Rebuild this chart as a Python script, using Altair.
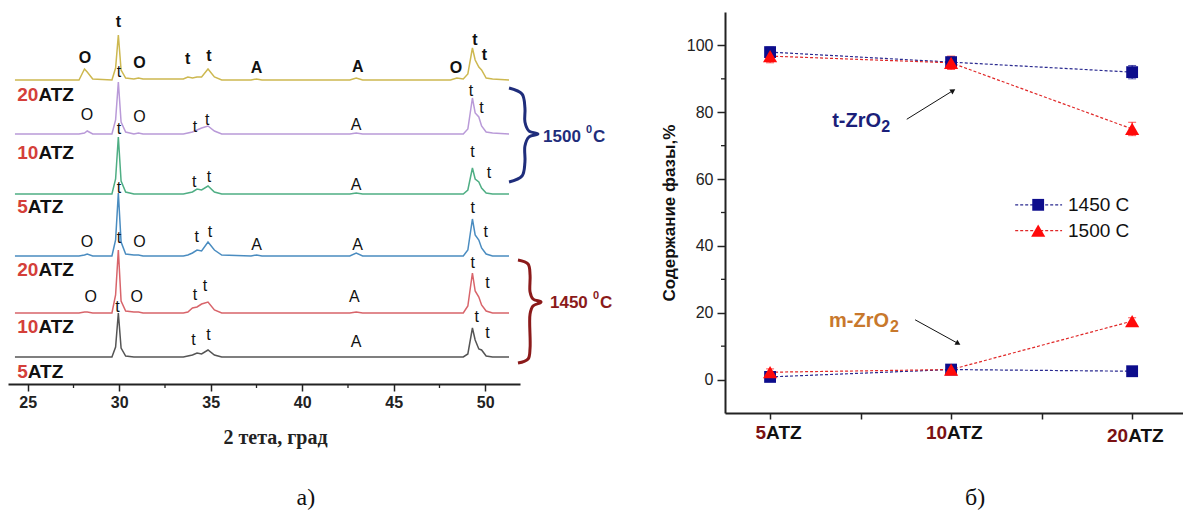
import altair as alt
import pandas as pd

# ================= panel a) : XRD patterns =================
TWO_THETA = [24.3, 27.8, 28.1, 28.25, 28.55, 29.6, 29.8, 29.95, 30.1, 30.35, 30.8, 31.05, 31.3,
             33.5, 33.75, 34.0, 34.25, 34.5, 34.85, 35.2, 35.6, 37.2, 37.5, 37.8, 42.6, 42.95, 43.3,
             48.1, 48.45, 48.8, 49.05, 49.3, 49.45, 49.65, 49.8, 50.05, 50.4, 51.3]
I_20ATZ_1500 = [0, 0, 11, 8, 1, 0, 12, 45, 10, 2, 1, 2, 1, 1, 3, 2, 3, 3, 11, 3, 0, 0, 1, 0, 0, 2, 0,
                0, 2, 1, 6, 32, 20, 13, 10, 2, 1, 0]
I_10ATZ_1500 = [0, 0, 1, 3, 0, 0, 14, 52, 12, 2, 0, 1, 0, 0, 1, 2, 4, 6, 8, 3, 0, 0, 0, 0, 0, 1, 0,
                0, 0, 0, 5, 36, 21, 17, 8, 2, 1, 0]
I_5ATZ_1500 = [0, 0, 0, 0, 0, 0, 15, 57, 13, 2, 0, 0, 0, 0, 1, 2, 5, 4, 8, 2, 0, 0, 0, 0, 0, 1, 0,
               0, 0, 0, 4, 26, 15, 12, 6, 1, 0, 0]
I_20ATZ_1450 = [0, 0, 1, 2, 0, 0, 16, 63, 14, 2, 1, 1, 0, 0, 1, 3, 6, 5, 14, 6, 1, 0, 1, 0, 0, 3, 0,
                0, 0, 0, 6, 37, 21, 16, 8, 2, 0, 0]
I_10ATZ_1450 = [0, 0, 1, 1, 0, 0, 18, 63, 12, 2, 1, 1, 0, 0, 1, 5, 6, 9, 11, 3, 0, 0, 0, 0, 0, 1, 0,
                0, 0, 0, 7, 40, 22, 16, 8, 2, 0, 0]
I_5ATZ_1450 = [0, 0, 0, 0, 0, 0, 10, 44, 9, 1, 0, 0, 0, 0, 1, 2, 4, 3, 7, 2, 0, 0, 0, 0, 0, 0, 0,
               0, 0, 0, 3, 29, 17, 8, 7, 1, 0, 0]
TRACES = [I_20ATZ_1500, I_10ATZ_1500, I_5ATZ_1500, I_20ATZ_1450, I_10ATZ_1450, I_5ATZ_1450]
TRACE_NAMES = ["20ATZ 1500", "10ATZ 1500", "5ATZ 1500", "20ATZ 1450", "10ATZ 1450", "5ATZ 1450"]
TRACE_OFFSET = [304, 250, 190, 128, 71, 27]
TRACE_COLOR = ["#CDB850", "#B99AD8", "#4FAE84", "#4A8CC0", "#D8646A", "#555555"]

SAMPLE_NUM = ["20", "10", "5", "20", "10", "5"]
SAMPLE_LABEL_Y = [289, 231, 177, 114, 57, 12]
SAMPLE_LABEL_X = 24.42

# peak labels per trace: (text, 2theta, level)
PEAKS = [
    [("O", 28.13, 326), ("t", 29.95, 362), ("O", 31.1, 321), ("t", 33.74, 325), ("t", 34.9, 328),
     ("A", 37.5, 316), ("A", 43.03, 317), ("O", 48.4, 316), ("t", 49.44, 344), ("t", 49.95, 329)],
    [("O", 28.24, 269), ("t", 29.99, 312), ("O", 31.1, 267), ("t", 34.14, 257), ("t", 34.81, 264),
     ("A", 42.94, 259), ("t", 49.22, 293), ("t", 49.8, 276)],
    [("t", 29.99, 255), ("t", 34.1, 202), ("t", 34.9, 207), ("A", 42.94, 199), ("t", 49.3, 232),
     ("t", 50.2, 211)],
    [("t", 29.99, 196), ("O", 28.24, 142), ("O", 31.1, 142), ("t", 34.23, 147), ("t", 34.96, 152),
     ("A", 37.5, 139), ("A", 43.03, 139), ("t", 49.32, 176), ("t", 50.03, 152)],
    [("t", 29.99, 146), ("O", 28.44, 87), ("O", 30.96, 87), ("t", 34.14, 89), ("t", 34.69, 98),
     ("A", 42.85, 87), ("t", 49.32, 121), ("t", 50.12, 101)],
    [("t", 29.9, 77), ("t", 34.05, 44), ("t", 34.87, 49), ("A", 42.94, 42), ("t", 49.53, 67),
     ("t", 50.12, 51)],
]
BOLD_TRACE = 0

BRACE_1500_X = [51.30, 52.01, 52.17, 52.17, 52.39, 52.88, 52.39, 52.17, 52.17, 52.01, 51.30]
BRACE_1500_Y = [296, 290, 276, 262, 253, 250, 247, 238, 222, 208, 202]
BRACE_1450_X = [51.79, 52.34, 52.45, 52.45, 52.61, 53.05, 52.61, 52.45, 52.45, 52.34, 51.79]
BRACE_1450_Y = [124, 120, 109, 92, 85, 82, 78, 70, 36, 25, 21]
TEMP_TEXT = ["1500", "1450"]
TEMP_X = [53.16, 53.54]
TEMP_Y = [247, 81]
TEMP_COLOR = ["#1F2D7B", "#8B1A1A"]

X_MINOR_LEFT = [27.5, 32.5, 37.5, 42.5, 47.5]

# ================= panel б) : phase content =================
SAMPLE_POS = [1, 2, 3]
SAMPLE_NUMS_R = ["5", "10", "20"]
SAMPLE_LABEL_Y_R = [-16, -16, -17]
T_1450 = [98, 95, 92]
T_1500 = [96.8, 94.8, 75]
M_1450 = [0.8, 3, 2.5]
M_1500 = [2.2, 3, 17.5]
T_1450_ERR = [1.5, 1.5, 2]
T_1500_ERR = [2, 2, 2]
M_1450_ERR = [1, 1, 1]
M_1500_ERR = [1, 1, 1]
Y_MINOR_R = [10, 30, 50, 70, 90]

LEGEND_NAMES = ["1450 C", "1500 C"]
LEGEND_Y = [52.3, 44.6]
LEGEND_X1, LEGEND_X2, LEGEND_XM, LEGEND_XT = 2.354, 2.613, 2.481, 2.646

PHASE_TEXT = ["t-ZrO", "m-ZrO"]
PHASE_X = [1.343, 1.326]
PHASE_Y = [77.5, 17.6]
PHASE_COLOR = ["#1B1F7A", "#C8782C"]
PHASE_SUB_DX = [49, 61]
ARROW_X = [1.755, 1.801]
ARROW_Y = [77.9, 17.9]
ARROW_X2 = [2.011, 2.039]
ARROW_Y2 = [86.5, 10.8]
ARROW_ANGLE = [58, 119]

SERIES_COLOR = {"1450 C": "#0D0D8C", "1500 C": "#FF0A0A"}
SERIES_LINE = {"1450 C": "#2A2A90", "1500 C": "#E02828"}
SERIES_SHAPE = {"1450 C": "square", "1500 C": "triangle-up"}
SERIES_SIZE = {"1450 C": 140, "1500 C": 200}

FONT = "Liberation Sans"

# ---------------- left panel ----------------
rows = []
for name, vals, off, col in zip(TRACE_NAMES, TRACES, TRACE_OFFSET, TRACE_COLOR):
    for t, v in zip(TWO_THETA, vals):
        rows.append({"theta": t, "inten": off + v, "trace": name, "col": col})
df_tr = pd.DataFrame(rows)

XL = alt.X("theta:Q", scale=alt.Scale(domain=[23.92, 51.9], nice=False, zero=False),
           axis=alt.Axis(values=[25, 30, 35, 40, 45, 50], tickSize=7, tickWidth=1.5, domainWidth=2,
                         domainColor="#222", tickColor="#222", labelColor="#222",
                         labelFont=FONT, labelFontSize=16, labelFontWeight="bold", labelPadding=3,
                         labelFlush=False, grid=False,
                         title="2 тета, град", titleFont="Liberation Serif", titleFontSize=20,
                         titleFontWeight="bold", titleColor="#222", titleX=267, titleY=53,
                         titleBaseline="middle"))
YL = alt.Y("inten:Q", scale=alt.Scale(domain=[0, 372], nice=False, zero=False), axis=None)

lines_l = alt.Chart(df_tr).mark_line(strokeWidth=1.5).encode(
    x=XL, y=YL, color=alt.Color("col:N", scale=None), detail="trace:N")

minor_l = alt.Chart(pd.DataFrame({"theta": X_MINOR_LEFT})).mark_rule(
    color="#222", strokeWidth=1.3).encode(x=XL, y=alt.value(372), y2=alt.value(376))

prow = []
for i, pl in enumerate(PEAKS):
    for txt, t, lv in pl:
        prow.append({"theta": t, "inten": lv, "txt": txt, "bold": i == BOLD_TRACE})
df_pk = pd.DataFrame(prow)
peaks_n = alt.Chart(df_pk[~df_pk["bold"]]).mark_text(
    font=FONT, fontSize=16, color="#111", baseline="middle").encode(x=XL, y=YL, text="txt:N")
peaks_b = alt.Chart(df_pk[df_pk["bold"]]).mark_text(
    font=FONT, fontSize=16, fontWeight="bold", color="#111", baseline="middle").encode(
    x=XL, y=YL, text="txt:N")

DIGIT_W = 0.58  # width of one bold digit in 2theta units
df_sn = pd.DataFrame({"theta": [SAMPLE_LABEL_X] * 6, "inten": SAMPLE_LABEL_Y, "txt": SAMPLE_NUM})
df_sa = pd.DataFrame({"theta": [SAMPLE_LABEL_X + DIGIT_W * len(n) for n in SAMPLE_NUM],
                      "inten": SAMPLE_LABEL_Y, "txt": ["ATZ"] * 6})
snum = alt.Chart(df_sn).mark_text(font=FONT, fontSize=19, fontWeight="bold", color="#D43F3A",
                                   align="left", baseline="middle").encode(x=XL, y=YL, text="txt:N")
satz = alt.Chart(df_sa).mark_text(font=FONT, fontSize=19, fontWeight="bold", color="#111",
                                   align="left", baseline="middle").encode(x=XL, y=YL, text="txt:N")

brows = []
for name, bx, by, col in [("b1500", BRACE_1500_X, BRACE_1500_Y, TEMP_COLOR[0]),
                          ("b1450", BRACE_1450_X, BRACE_1450_Y, TEMP_COLOR[1])]:
    for k, (a, b) in enumerate(zip(bx, by)):
        brows.append({"theta": a, "inten": b, "brace": name, "k": k, "col": col})
braces = alt.Chart(pd.DataFrame(brows)).mark_line(strokeWidth=3, interpolate="catmull-rom").encode(
    x=XL, y=YL, color=alt.Color("col:N", scale=None), detail="brace:N", order="k:Q")

df_temp = pd.DataFrame({"theta": TEMP_X, "inten": TEMP_Y, "txt": TEMP_TEXT, "col": TEMP_COLOR})
temp_base = alt.Chart(df_temp).encode(x=XL, y=YL, color=alt.Color("col:N", scale=None))
temp_num = temp_base.mark_text(font=FONT, fontSize=17, fontWeight="bold", align="left",
                               baseline="middle").encode(text="txt:N")
temp_deg = temp_base.mark_text(font=FONT, fontSize=11, fontWeight="bold", align="left",
                               baseline="middle", dx=43, dy=-7, text="0")
temp_c = temp_base.mark_text(font=FONT, fontSize=17, fontWeight="bold", align="left",
                             baseline="middle", dx=50, text="C")

cap_a = alt.Chart(pd.DataFrame({"theta": [40.2], "inten": [-114], "txt": ["а)"]})).mark_text(
    font="Liberation Serif", fontSize=24, color="#111", baseline="middle").encode(
    x=XL, y=YL, text="txt:N")

left = alt.layer(lines_l, minor_l, peaks_n, peaks_b, snum, satz, braces,
                 temp_num, temp_deg, temp_c, cap_a).properties(width=512, height=372)

# ---------------- right panel ----------------
rrows = []
for s, tv, te, mv, me in [("1450 C", T_1450, T_1450_ERR, M_1450, M_1450_ERR),
                          ("1500 C", T_1500, T_1500_ERR, M_1500, M_1500_ERR)]:
    for ph, vals, errs in [("t", tv, te), ("m", mv, me)]:
        for p, v, e in zip(SAMPLE_POS, vals, errs):
            rrows.append({"pos": p, "val": v, "lo": v - e, "hi": v + e, "series": s,
                          "grp": s + ph, "lcol": SERIES_LINE[s], "mcol": SERIES_COLOR[s],
                          "shape": SERIES_SHAPE[s], "size": SERIES_SIZE[s]})
df_r = pd.DataFrame(rrows)

XR = alt.X("pos:Q", scale=alt.Scale(domain=[0.751, 3.281], nice=False, zero=False),
           axis=alt.Axis(values=[1, 1.5, 2, 2.5, 3], labels=False, title=None, tickSize=6,
                         tickWidth=1.5, domainWidth=2, domainColor="#222", tickColor="#222",
                         grid=False))
YR = alt.Y("val:Q", scale=alt.Scale(domain=[-10, 110], nice=False, zero=False),
           axis=alt.Axis(values=[0, 20, 40, 60, 80, 100], tickSize=8, tickWidth=1.5, domainWidth=2,
                         domainColor="#222", tickColor="#222", labelColor="#222", labelFont=FONT,
                         labelFontSize=16, labelPadding=4, grid=False,
                         title="Содержание фазы,%", titleFont=FONT, titleFontSize=17,
                         titleFontWeight="bold", titleColor="#111", titlePadding=8))

lines_r = alt.Chart(df_r).mark_line(strokeWidth=1.2, strokeDash=[3, 2]).encode(
    x=XR, y=YR, color=alt.Color("lcol:N", scale=None), detail="grp:N")
err_r = alt.Chart(df_r).mark_rule(strokeWidth=1).encode(
    x=XR, y=alt.Y("lo:Q"), y2="hi:Q", color=alt.Color("mcol:N", scale=None))
cap_lo = alt.Chart(df_r).mark_tick(orient="horizontal", size=8, thickness=1).encode(
    x=XR, y=alt.Y("lo:Q"), color=alt.Color("mcol:N", scale=None))
cap_hi = alt.Chart(df_r).mark_tick(orient="horizontal", size=8, thickness=1).encode(
    x=XR, y=alt.Y("hi:Q"), color=alt.Color("mcol:N", scale=None))
pts_r = alt.Chart(df_r).mark_point(filled=True, opacity=1).encode(
    x=XR, y=YR, color=alt.Color("mcol:N", scale=None), shape=alt.Shape("shape:N", scale=None),
    size=alt.Size("size:Q", scale=None))

minor_r = alt.Chart(pd.DataFrame({"val": Y_MINOR_R})).mark_rule(color="#222", strokeWidth=1.3).encode(
    y=YR, x=alt.value(0), x2=alt.value(-4))

df_xl = pd.DataFrame({"pos": SAMPLE_POS, "val": SAMPLE_LABEL_Y_R, "num": SAMPLE_NUMS_R})
xl_num = alt.Chart(df_xl).mark_text(font=FONT, fontSize=19, fontWeight="bold", color="#7B1113",
                                    align="right", baseline="middle", dx=-4).encode(
    x=XR, y=YR, text="num:N")
xl_atz = alt.Chart(df_xl).mark_text(font=FONT, fontSize=19, fontWeight="bold", color="#111",
                                    align="left", baseline="middle", dx=-4, text="ATZ").encode(
    x=XR, y=YR)

df_lg = pd.DataFrame({"pos": [LEGEND_X1] * 2, "pos2": [LEGEND_X2] * 2, "val": LEGEND_Y,
                      "series": LEGEND_NAMES,
                      "lcol": [SERIES_LINE[s] for s in LEGEND_NAMES],
                      "mcol": [SERIES_COLOR[s] for s in LEGEND_NAMES],
                      "shape": [SERIES_SHAPE[s] for s in LEGEND_NAMES],
                      "size": [SERIES_SIZE[s] for s in LEGEND_NAMES]})
lg_line = alt.Chart(df_lg).mark_rule(strokeWidth=1.2, strokeDash=[3, 2]).encode(
    x=XR, x2="pos2:Q", y=YR, color=alt.Color("lcol:N", scale=None))
lg_pt = alt.Chart(df_lg.assign(pos=LEGEND_XM)).mark_point(filled=True, opacity=1).encode(
    x=XR, y=YR, color=alt.Color("mcol:N", scale=None), shape=alt.Shape("shape:N", scale=None),
    size=alt.Size("size:Q", scale=None))
lg_txt = alt.Chart(df_lg.assign(pos=LEGEND_XT)).mark_text(
    font=FONT, fontSize=19, color="#111", align="left", baseline="middle").encode(
    x=XR, y=YR, text="series:N")

df_ph = pd.DataFrame({"pos": PHASE_X, "val": PHASE_Y, "txt": PHASE_TEXT, "col": PHASE_COLOR})
ph_txt = alt.Chart(df_ph).mark_text(font=FONT, fontSize=20, fontWeight="bold", align="left",
                                    baseline="middle").encode(
    x=XR, y=YR, text="txt:N", color=alt.Color("col:N", scale=None))
ph_subs = [
    alt.Chart(df_ph.iloc[[i]]).mark_text(font=FONT, fontSize=16, fontWeight="bold", align="left",
                                         baseline="middle", dx=PHASE_SUB_DX[i], dy=6,
                                         text="2").encode(
        x=XR, y=YR, color=alt.Color("col:N", scale=None))
    for i in range(len(PHASE_TEXT))
]

df_ar = pd.DataFrame({"pos": ARROW_X, "val": ARROW_Y, "pos2": ARROW_X2, "val2": ARROW_Y2,
                      "angle": ARROW_ANGLE})
ar_line = alt.Chart(df_ar).mark_rule(color="#111", strokeWidth=1).encode(
    x=XR, y=YR, x2="pos2:Q", y2="val2:Q")
ar_head = alt.Chart(df_ar).mark_point(shape="triangle-up", filled=True, size=35, color="#111",
                                      opacity=1).encode(
    x=alt.X("pos2:Q"), y=alt.Y("val2:Q"), angle=alt.Angle("angle:Q", scale=None))

cap_b = alt.Chart(pd.DataFrame({"pos": [2.133], "val": [-35.3], "txt": ["б)"]})).mark_text(
    font="Liberation Serif", fontSize=24, color="#111", baseline="middle").encode(
    x=XR, y=YR, text="txt:N")

right = alt.layer(lines_r, err_r, cap_lo, cap_hi, pts_r, minor_r, xl_num, xl_atz,
                  lg_line, lg_pt, lg_txt, ph_txt, *ph_subs, ar_line, ar_head, cap_b).properties(
    width=458, height=401)

chart = alt.hconcat(left, right, spacing=205, bounds="flush").properties(
    padding={"left": 8, "top": 12, "right": 0, "bottom": 0},
    background="white",
).configure_view(stroke=None)

chart.save("out.html", embed_options={"renderer": "svg", "actions": False})
